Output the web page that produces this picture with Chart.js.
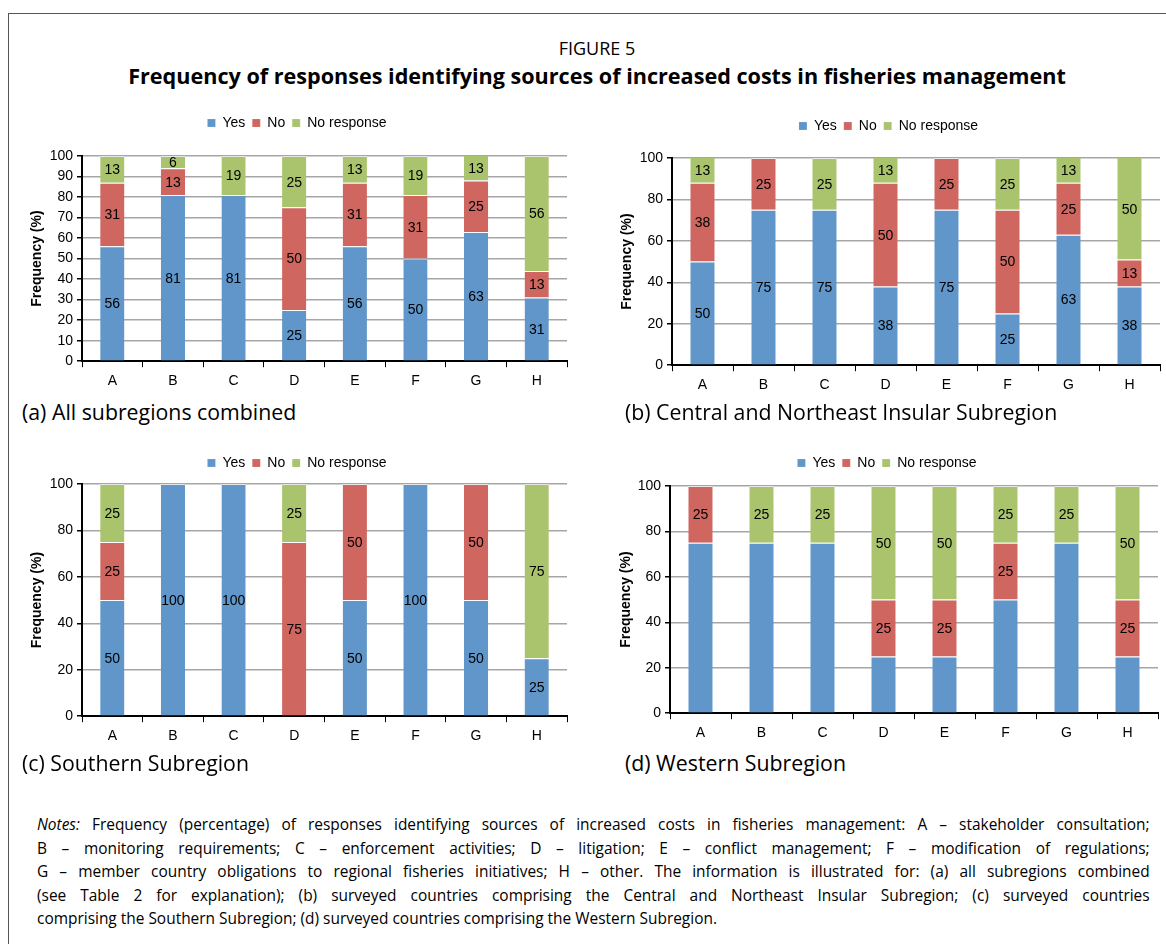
<!DOCTYPE html>
<html>
<head>
<meta charset="utf-8">
<script src="https://cdn.jsdelivr.net/npm/chart.js@4.4.1/dist/chart.umd.min.js"></script>
<style>
  body { margin: 0; width: 1166px; height: 944px; background: #fff; position: relative; overflow: hidden; font-family: "Open Sans", sans-serif; color: #000; }
  .marco { position: absolute; left: 8px; top: 13px; width: 1200px; height: 1000px; border: 1.5px solid #555; box-sizing: border-box; }
  .fig { position: absolute; top: 36px; left: 0; width: 1194px; text-align: center; font-size: 18px; }
  .titulo { position: absolute; top: 61px; left: 0; width: 1194px; text-align: center; font-size: 21.6px; font-weight: bold; }
  .caja { position: absolute; }
  .pie { position: absolute; font-size: 21.3px; white-space: nowrap; }
  .notas { position: absolute; left: 37px; top: 813px; width: 1153px; font-size: 16px; line-height: 23.5px; transform: scaleX(0.965); transform-origin: 0 0; }
  .notas div { text-align: justify; text-align-last: justify; }
  .notas div.ult { text-align-last: left; }
</style>
</head>
<body>
<div class="marco"></div>
<div class="fig">FIGURE 5</div>
<div class="titulo">Frequency of responses identifying sources of increased costs in fisheries management</div>

<div class="caja" style="left:0px; top:109px;"><canvas id="gA" width="568" height="287"></canvas></div>
<div class="caja" style="left:608px; top:112px;"><canvas id="gB" width="558" height="288"></canvas></div>
<div class="caja" style="left:0px; top:449px;"><canvas id="gC" width="590" height="302"></canvas></div>
<div class="caja" style="left:616px; top:449px;"><canvas id="gD" width="550" height="299"></canvas></div>

<div class="pie" style="left:22px; top:397px;">(a) All subregions combined</div>
<div class="pie" style="left:625px; top:397px;">(b) Central and Northeast Insular Subregion</div>
<div class="pie" style="left:22px; top:748px;">(c) Southern Subregion</div>
<div class="pie" style="left:625px; top:748px;">(d) Western Subregion</div>

<div class="notas">
  <div><i>Notes:</i> Frequency (percentage) of responses identifying sources of increased costs in fisheries management: A – stakeholder consultation;</div>
  <div>B – monitoring requirements; C – enforcement activities; D – litigation; E – conflict management; F – modification of regulations;</div>
  <div>G – member country obligations to regional fisheries initiatives; H – other. The information is illustrated for: (a) all subregions combined</div>
  <div>(see Table 2 for explanation); (b) surveyed countries comprising the Central and Northeast Insular Subregion; (c) surveyed countries</div>
  <div class="ult">comprising the Southern Subregion; (d) surveyed countries comprising the Western Subregion.</div>
</div>

<script>
// Categorías y valores (%)
const categorias = ["A", "B", "C", "D", "E", "F", "G", "H"];
const series = ["Yes", "No", "No response"];

// (a) todas las subregiones
const siA = [56, 81, 81, 25, 56, 50, 63, 31];
const noA = [31, 13, 0, 50, 31, 31, 25, 13];
const nrA = [13, 6, 19, 25, 13, 19, 13, 56];
// (b) Central y Noreste Insular
const siB = [50, 75, 75, 38, 75, 25, 63, 38];
const noB = [38, 25, 0, 50, 25, 50, 25, 13];
const nrB = [13, 0, 25, 13, 0, 25, 13, 50];
// (c) Sur
const siC = [50, 100, 100, 0, 50, 100, 50, 25];
const noC = [25, 0, 0, 75, 50, 0, 50, 0];
const nrC = [25, 0, 0, 25, 0, 0, 0, 75];
// (d) Oeste
const siD = [75, 75, 75, 25, 25, 50, 75, 25];
const noD = [25, 0, 0, 25, 25, 25, 0, 25];
const nrD = [0, 25, 25, 50, 50, 25, 25, 50];

const colores = ["#6096c9", "#cf6660", "#a9c46d"];
const fuente = "'Liberation Sans', Arial, sans-serif";

// Etiquetas dentro de cada segmento
const etiquetas = {
    id: "etiquetas",
    afterDatasetsDraw(chart) {
        const ctx = chart.ctx;
        const area = chart.chartArea;
        ctx.save();
        ctx.font = "14px " + fuente;
        ctx.fillStyle = "#000";
        ctx.textAlign = "center";
        ctx.textBaseline = "middle";
        chart.data.datasets.forEach(function(ds, i) {
            if (ds.sinEtiqueta) return;
            const meta = chart.getDatasetMeta(i);
            meta.data.forEach(function(barra, j) {
                const v = ds.data[j];
                if (!v) return;
                const arriba = Math.max(barra.y, area.top);
                ctx.fillText(v, barra.x, (arriba + barra.base) / 2 + 1);
            });
        });
        ctx.restore();
    }
};

// Espacio extra debajo de la leyenda
const espacioLeyenda = {
    id: "espacioLeyenda",
    afterInit(chart, args, opts) {
        const leyenda = chart.legend;
        const fitOriginal = leyenda.fit;
        leyenda.fit = function() {
            fitOriginal.call(this);
            this.height += opts.extra || 0;
        };
    }
};

function crearGrafico(id, si, no, nr, paso, pad, extra, anchoY, sinSi) {
    const valores = [si, no, nr];
    const ctx = document.getElementById(id).getContext("2d");
    return new Chart(ctx, {
        type: "bar",
        data: {
            labels: categorias,
            datasets: valores.map(function(d, i) {
                return {
                    label: series[i],
                    data: d,
                    backgroundColor: colores[i],
                    borderColor: "rgba(255,255,255,0.5)",
                    borderWidth: { top: 1 },
                    borderSkipped: "bottom",
                    barPercentage: 0.4,
                    categoryPercentage: 1,
                    sinEtiqueta: sinSi && i === 0
                };
            })
        },
        options: {
            responsive: false,
            animation: false,
            layout: { padding: pad },
            plugins: {
                espacioLeyenda: { extra: extra },
                legend: {
                    position: "top",
                    labels: {
                        boxWidth: 8,
                        boxHeight: 8,
                        padding: 7,
                        color: "#000",
                        font: { size: 14, family: fuente }
                    }
                },
                tooltip: { enabled: false }
            },
            scales: {
                x: {
                    stacked: true,
                    grid: { display: true, drawOnChartArea: false, offset: true, tickLength: 6, color: "#000", lineWidth: 1 },
                    border: { color: "#000", width: 2 },
                    ticks: { color: "#000", font: { size: 14, family: fuente }, padding: 6 }
                },
                y: {
                    stacked: true,
                    min: 0,
                    max: 100,
                    afterFit: function(s) { s.width = anchoY; },
                    grid: { color: "#a6a6a6", lineWidth: 1.5, tickLength: 5, tickColor: "#000" },
                    border: { color: "#000", width: 2 },
                    ticks: { stepSize: paso, color: "#000", font: { size: 14, family: fuente }, padding: 4 },
                    title: { display: true, text: "Frequency (%)", color: "#000", font: { size: 14, weight: "bold", family: fuente }, padding: 2 }
                }
            }
        },
        plugins: [etiquetas, espacioLeyenda]
    });
}

crearGrafico("gA", siA, noA, nrA, 10, { left: 27, right: 1, top: 0, bottom: 0 }, 16, 55, false);
crearGrafico("gB", siB, noB, nrB, 20, { left: 9, right: 6, top: 0, bottom: 0 }, 15, 55, false);
crearGrafico("gC", siC, noC, nrC, 20, { left: 27, right: 23, top: 0, bottom: 0 }, 4, 55, false);
crearGrafico("gD", siD, noD, nrD, 20, { left: 0, right: 8, top: 0, bottom: 0 }, 6, 54, true);
</script>
</body>
</html>
